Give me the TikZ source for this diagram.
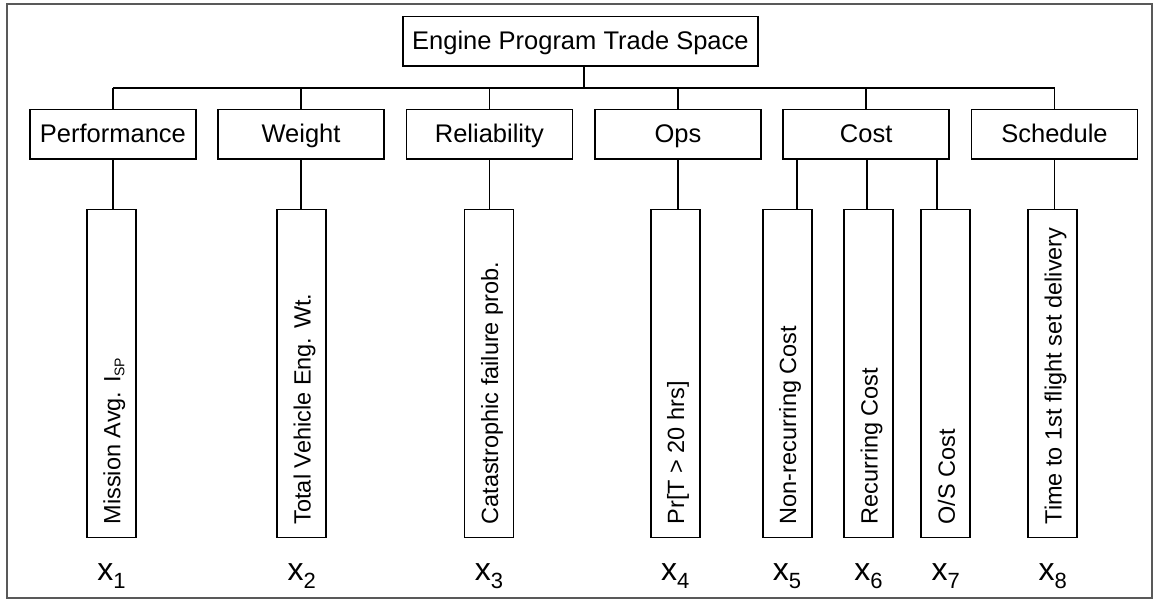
\documentclass[tikz,border=0pt]{standalone}
\usepackage{fontspec}
\setmainfont{Liberation Sans}
\begin{document}
\begin{tikzpicture}[x=1pt,y=-1pt,
  line width=1.8pt,
  lbl/.style={font=\fontsize{25.5}{30}\selectfont},
  box/.style={draw, lbl, inner sep=0pt, minimum height=49.5pt, text height=18.3pt, text depth=1.3pt},
  catbox/.style={box, minimum width=166pt},
  leafbox/.style={draw, inner sep=0pt, minimum width=49pt, minimum height=328pt},
  leaftext/.style={font=\fontsize{23.5}{28}\selectfont, inner sep=0pt, rotate=90, anchor=base west},
  xlab/.style={inner sep=0pt, anchor=base, font=\fontsize{32}{34}\selectfont},
  conn/.style={draw, line width=1.8pt}
]
\useasboundingbox (0,0) rectangle (1154,600);
% frame
\draw[black!65, line width=1.5pt] (7,4) rectangle (1152,598);

% top node
\node[box, minimum width=355.3pt] (top) at (580.4,41.2) {Engine Program Trade Space};

% categories
\node[catbox] (perf)  at (112.9,134.2) {Performance};
\node[catbox] (wt)    at (301.0,134.2) {Weight};
\node[catbox] (rel)   at (489.4,134.2) {Reliability};
\node[catbox] (ops)   at (677.9,134.2) {Ops};
\node[catbox] (cost)  at (866.2,134.2) {Cost};
\node[catbox] (sched) at (1054.5,134.2) {Schedule};

% leaves
\node[leafbox] (l1) at (111.4,373.4) {};
\node[leafbox] (l2) at (301.7,373.4) {};
\node[leafbox] (l3) at (489.0,373.4) {};
\node[leafbox] (l4) at (675.2,373.4) {};
\node[leafbox] (l5) at (787.1,373.4) {};
\node[leafbox] (l6) at (868.5,373.4) {};
\node[leafbox] (l7) at (945.8,373.4) {};
\node[leafbox] (l8) at (1052.7,373.4) {};

% leaf texts
\node[leaftext] (t1) at ([xshift=9pt,yshift=13pt]l1.south) {Mission Avg. I\raisebox{-4pt}{\fontsize{14}{14}\selectfont SP}};
\node[leaftext] (t2) at ([xshift=9pt,yshift=13pt]l2.south) {Total Vehicle Eng. Wt.};
\node[leaftext] (t3) at ([xshift=9pt,yshift=13pt]l3.south) {Catastrophic failure prob.};
\node[leaftext] (t4) at ([xshift=9pt,yshift=13pt]l4.south) {Pr[T > 20 hrs]};
\node[leaftext] (t5) at ([xshift=9pt,yshift=13pt]l5.south) {Non-recurring Cost};
\node[leaftext] (t6) at ([xshift=9pt,yshift=13pt]l6.south) {Recurring Cost};
\node[leaftext] (t7) at ([xshift=9pt,yshift=13pt]l7.south) {O/S Cost};
\node[leaftext] (t8) at ([xshift=9pt,yshift=13pt]l8.south) {Time to 1st flight set delivery};

% x labels
\foreach \i in {1,...,8}{
  \node[xlab] (x\i) at (l\i.south |- 0,580.5) {x\raisebox{-8pt}{\fontsize{22}{22}\selectfont\i}};
}

% connectors
\coordinate (busy) at (0,87.7);
\coordinate (trk) at (583.7,0);
\path[conn] (trk |- top.south) -- (trk |- busy);
\path[conn] (perf.north |- busy) -- (sched.north |- busy);
\foreach \c in {perf,wt,rel,ops,cost,sched}{
  \path[conn] (\c.north) -- (\c.north |- busy);
}
\path[conn] (perf.south) -- (perf.south |- l1.north);
\path[conn] (wt.south) -- (wt.south |- l2.north);
\path[conn] (rel.south) -- (rel.south |- l3.north);
\path[conn] (ops.south) -- (ops.south |- l4.north);
\path[conn] (sched.south) -- (sched.south |- l8.north);
\coordinate (d5) at (797.3,0);
\coordinate (d6) at (867.3,0);
\coordinate (d7) at (937.0,0);
\path[conn] (d5 |- cost.south) -- (d5 |- l5.north);
\path[conn] (d6 |- cost.south) -- (d6 |- l6.north);
\path[conn] (d7 |- cost.south) -- (d7 |- l7.north);
\end{tikzpicture}
\end{document}
